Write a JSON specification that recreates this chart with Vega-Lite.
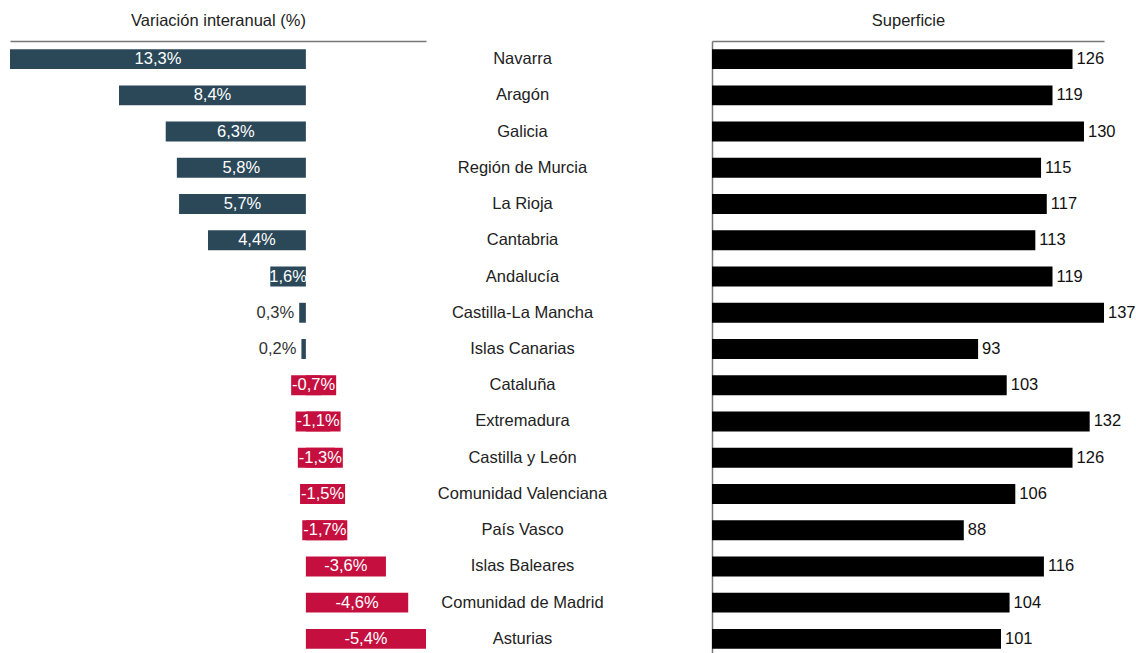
{
  "$schema": "https://vega.github.io/schema/vega-lite/v6.json",
  "padding": {"left": 10, "top": 12, "right": 0, "bottom": 0},
  "background": "white",
  "config": {"view": {"stroke": null}, "font": "Liberation Sans"},
  "data": {"values": [
    {"region": "Navarra", "var": 13.3, "sup": 126},
    {"region": "Aragón", "var": 8.4, "sup": 119},
    {"region": "Galicia", "var": 6.3, "sup": 130},
    {"region": "Región de Murcia", "var": 5.8, "sup": 115},
    {"region": "La Rioja", "var": 5.7, "sup": 117},
    {"region": "Cantabria", "var": 4.4, "sup": 113},
    {"region": "Andalucía", "var": 1.6, "sup": 119},
    {"region": "Castilla-La Mancha", "var": 0.3, "sup": 137},
    {"region": "Islas Canarias", "var": 0.2, "sup": 93},
    {"region": "Cataluña", "var": -0.7, "sup": 103},
    {"region": "Extremadura", "var": -1.1, "sup": 132},
    {"region": "Castilla y León", "var": -1.3, "sup": 126},
    {"region": "Comunidad Valenciana", "var": -1.5, "sup": 106},
    {"region": "País Vasco", "var": -1.7, "sup": 88},
    {"region": "Islas Baleares", "var": -3.6, "sup": 116},
    {"region": "Comunidad de Madrid", "var": -4.6, "sup": 104},
    {"region": "Asturias", "var": -5.4, "sup": 101}
  ]},
  "transform": [
    {"calculate": "replace(toString(datum.var), '.', ',') + '%'", "as": "lab"},
    {"calculate": "datum.var / 2", "as": "mid"}
  ],
  "spacing": 286,
  "bounds": "flush",
  "hconcat": [
    {
      "width": 416,
      "height": 616,
      "encoding": {
        "y": {"field": "region", "type": "nominal", "sort": null, "axis": null,
              "scale": {"paddingInner": 0.45, "paddingOuter": 0.225}}
      },
      "layer": [
        {
          "mark": {"type": "bar"},
          "encoding": {
            "x": {"field": "var", "type": "quantitative",
                  "scale": {"domain": [-5.4, 13.3], "reverse": true, "nice": false},
                  "axis": {"orient": "top", "title": "Variación interanual (%)", "labels": false, "ticks": false, "grid": false,
                           "domainColor": "#777", "domainWidth": 1.5, "titleFontSize": 16.5, "titleFontWeight": "normal",
                           "titleColor": "#222", "titlePadding": 13}},
            "color": {"condition": {"test": "datum.var < 0", "value": "#c5103f"}, "value": "#2b4859"}
          }
        },
        {
          "transform": [{"filter": "datum.var < 0 && datum.var > -2"}],
          "mark": {"type": "tick", "orient": "horizontal", "size": 45, "thickness": 20, "color": "#c5103f", "opacity": 1},
          "encoding": {"x": {"field": "mid", "type": "quantitative"}}
        },
        {
          "mark": {"type": "rule", "color": "#111", "strokeWidth": 1.2},
          "encoding": {"x": {"datum": 0, "type": "quantitative"}}
        },
        {
          "transform": [{"filter": "datum.var >= 1"}],
          "mark": {"type": "text", "color": "white", "fontSize": 16.5},
          "encoding": {"x": {"field": "mid", "type": "quantitative"}, "text": {"field": "lab"}}
        },
        {
          "transform": [{"filter": "datum.var > 0 && datum.var < 1"}],
          "mark": {"type": "text", "color": "#333", "fontSize": 16.5, "align": "right", "dx": -5},
          "encoding": {"x": {"field": "var", "type": "quantitative"}, "text": {"field": "lab"}}
        },
        {
          "transform": [{"filter": "datum.var < 0"}],
          "mark": {"type": "text", "color": "white", "fontSize": 16.5},
          "encoding": {"x": {"field": "mid", "type": "quantitative"}, "text": {"field": "lab"}}
        }
      ]
    },
    {
      "width": 392,
      "height": 616,
      "encoding": {
        "y": {"field": "region", "type": "nominal", "sort": null,
              "scale": {"paddingInner": 0.45, "paddingOuter": 0.225},
              "axis": {"title": null, "ticks": false, "domainColor": "#777", "domainWidth": 1.5, "labelAlign": "center",
                       "labelPadding": 190, "labelFontSize": 16.5, "labelColor": "#222", "labelLimit": 300}}
      },
      "layer": [
        {
          "mark": {"type": "bar", "color": "black"},
          "encoding": {
            "x": {"field": "sup", "type": "quantitative",
                  "scale": {"domain": [0, 137], "nice": false},
                  "axis": {"orient": "top", "title": "Superficie", "labels": false, "ticks": false, "grid": false,
                           "domainColor": "#777", "domainWidth": 1.5, "titleFontSize": 16.5, "titleFontWeight": "normal",
                           "titleColor": "#222", "titlePadding": 13}}
          }
        },
        {
          "mark": {"type": "text", "align": "left", "dx": 4, "fontSize": 16.5, "color": "#111"},
          "encoding": {"x": {"field": "sup", "type": "quantitative"}, "text": {"field": "sup"}}
        }
      ]
    }
  ]
}
